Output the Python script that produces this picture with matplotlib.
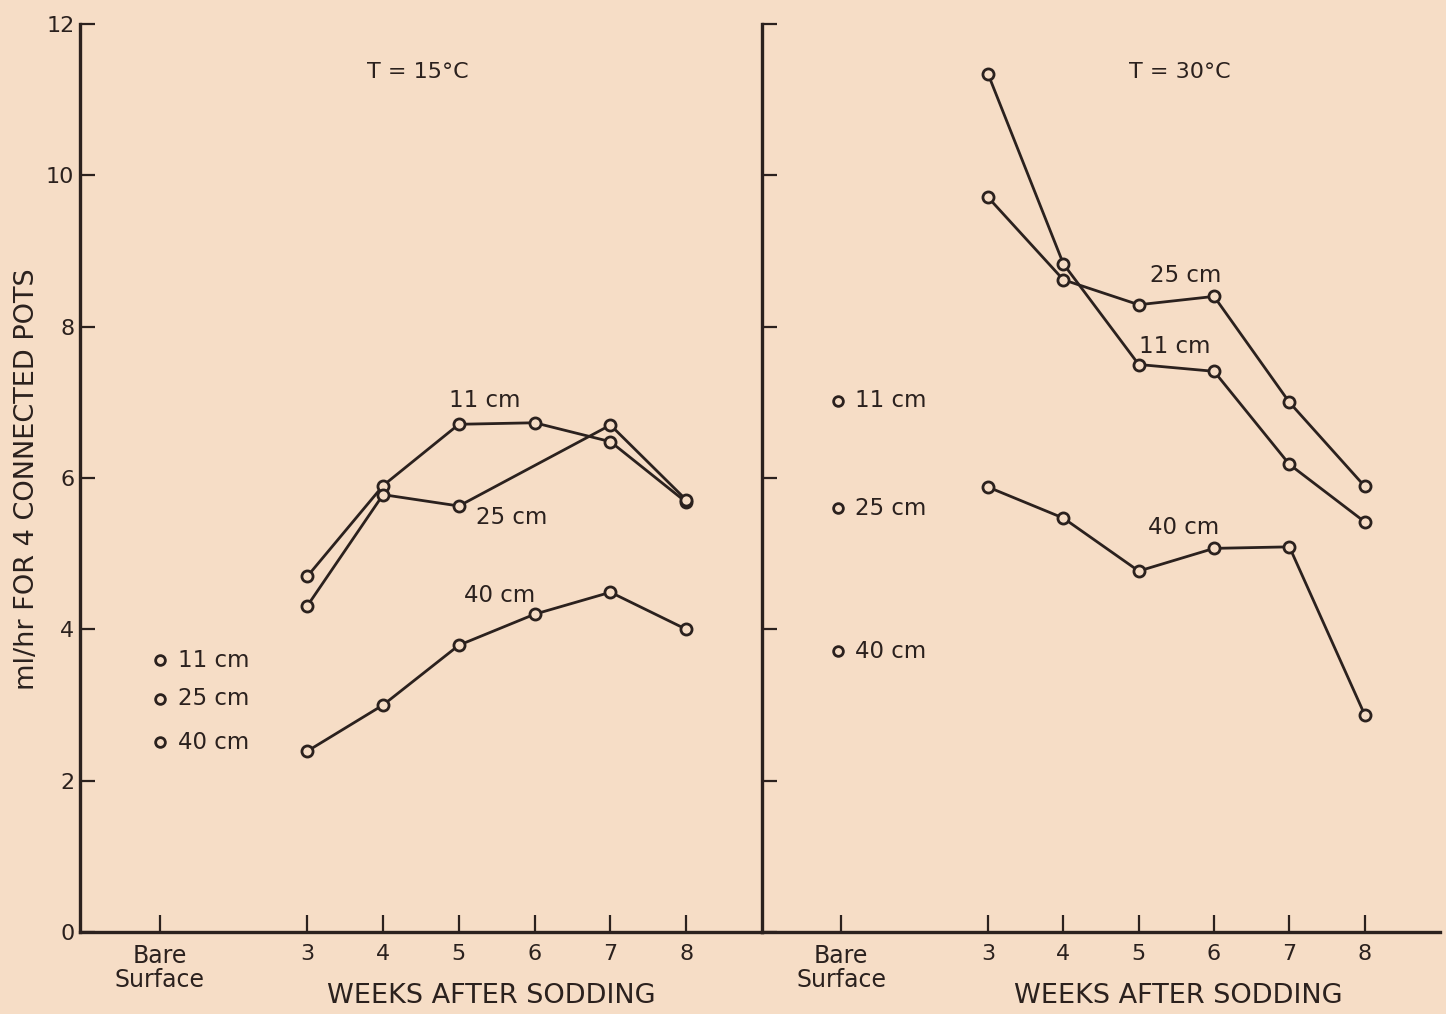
import numpy as np
import matplotlib
matplotlib.use("Agg")
import matplotlib.pyplot as plt

# --- data ---
weeks = [3, 4, 5, 6, 7, 8]
bare_x = 1.05
tick_labels = ['Bare\nSurface', '3', '4', '5', '6', '7', '8']

# T = 15 C
c15_11 = [4.70, 5.90, 6.71, 6.73, 6.48, 5.68]
c15_25_weeks = [3, 4, 5, 7, 8]
c15_25 = [4.31, 5.78, 5.63, 6.70, 5.71]
c15_40 = [2.39, 3.00, 3.79, 4.20, 4.49, 4.00]
c15_bare = [3.59, 3.08, 2.51]

# T = 30 C
c30_11 = [11.34, 8.83, 7.50, 7.41, 6.18, 5.42]
c30_25 = [9.71, 8.62, 8.29, 8.40, 7.00, 5.89]
c30_40 = [5.88, 5.47, 4.77, 5.07, 5.09, 2.87]
c30_bare = [7.02, 5.60, 3.71]

depths = ['11 cm', '25 cm', '40 cm']

bg = '#f6ddc6'
ink = '#2b211e'

plt.rcParams['font.family'] = ['DejaVu Sans']
fig = plt.figure(figsize=(14.46, 10.14), dpi=100, facecolor=bg)
ax1 = fig.add_axes([0.0553, 0.0809, 0.4717, 0.8954])
ax2 = fig.add_axes([0.527, 0.0809, 0.4689, 0.8954])

mk = dict(marker='o', ms=8, mfc=bg, mec=ink, mew=2, color=ink, lw=2)

for ax in (ax1, ax2):
    ax.set_facecolor(bg)
    ax.set_xlim(0, 9)
    ax.set_ylim(0, 12)
    for s in ('top', 'right'):
        ax.spines[s].set_visible(False)
    for s in ('left', 'bottom'):
        ax.spines[s].set_color(ink)
        ax.spines[s].set_linewidth(2.4)
    ax.set_xticks([bare_x] + weeks)
    labs = ax.set_xticklabels(tick_labels, fontsize=16, color=ink, linespacing=1.0)
    labs[0].set_fontsize(17)
    ax.set_yticks(np.arange(0, 13, 2))
    ax.tick_params(axis='x', direction='in', length=12, width=1.6, color=ink, pad=9)
    ax.tick_params(axis='y', direction='in', length=11, width=1.6, color=ink, pad=4,
                   labelsize=16, labelcolor=ink)

ax2.tick_params(axis='y', labelleft=False)

# left panel
ax1.plot(weeks, c15_11, **mk)
ax1.plot(c15_25_weeks, c15_25, **mk)
ax1.plot(weeks, c15_40, **mk)
ax1.plot([bare_x] * 3, c15_bare, ls='none', marker='o', ms=7, mfc=bg, mec=ink, mew=2)
for y, d in zip(c15_bare, depths):
    ax1.text(bare_x + 0.25, y, d, fontsize=16.5, color=ink, va='center', ha='left')
ax1.text(5.34, 7.03, '11 cm', fontsize=16.5, color=ink, ha='center', va='center')
ax1.text(5.70, 5.48, '25 cm', fontsize=16.5, color=ink, ha='center', va='center')
ax1.text(5.54, 4.45, '40 cm', fontsize=16.5, color=ink, ha='center', va='center')
ax1.text(4.46, 11.37, 'T = 15°C', fontsize=16, color=ink, ha='center', va='center')

# right panel
ax2.plot(weeks, c30_11, **mk)
ax2.plot(weeks, c30_25, **mk)
ax2.plot(weeks, c30_40, **mk)
ax2.plot([1.01] * 3, c30_bare, ls='none', marker='o', ms=7, mfc=bg, mec=ink, mew=2)
for y, d in zip(c30_bare, depths):
    ax2.text(1.01 + 0.22, y, d, fontsize=16.5, color=ink, va='center', ha='left')
ax2.text(5.62, 8.67, '25 cm', fontsize=16.5, color=ink, ha='center', va='center')
ax2.text(5.48, 7.74, '11 cm', fontsize=16.5, color=ink, ha='center', va='center')
ax2.text(5.59, 5.34, '40 cm', fontsize=16.5, color=ink, ha='center', va='center')
ax2.text(5.55, 11.37, 'T = 30°C', fontsize=16, color=ink, ha='center', va='center')

fig.text(0.340, 0.018, 'WEEKS AFTER SODDING', fontsize=19.5, color=ink, ha='center', va='center')
fig.text(0.815, 0.018, 'WEEKS AFTER SODDING', fontsize=19.5, color=ink, ha='center', va='center')
fig.text(0.019, 0.527, 'ml/hr FOR 4 CONNECTED POTS', fontsize=19.5, color=ink,
         ha='center', va='center', rotation=90)

fig.savefig('out.png', dpi=100, facecolor=bg)
